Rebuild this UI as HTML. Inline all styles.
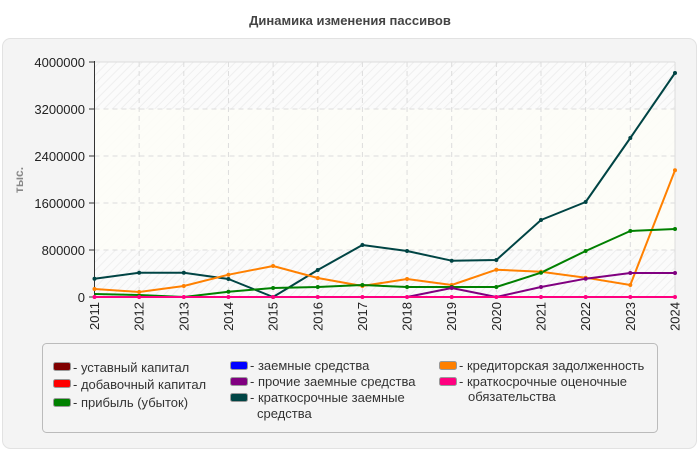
<!DOCTYPE html>
<html><head><meta charset="utf-8"><style>
body{margin:0;width:700px;height:450px;background:#fff;font-family:"Liberation Sans",sans-serif;overflow:hidden}
</style></head><body>
<svg width="700" height="450" xmlns="http://www.w3.org/2000/svg" font-family="Liberation Sans, sans-serif">
<defs>
<pattern id="h" width="6" height="6" patternUnits="userSpaceOnUse" patternTransform="rotate(45)">
<rect width="6" height="6" fill="#fbfbfb"/><line x1="0" y1="0" x2="0" y2="6" stroke="#efefef" stroke-width="2"/>
</pattern>
</defs>
<text x="350" y="25" text-anchor="middle" font-size="13" font-weight="bold" fill="#444">Динамика изменения пассивов</text>
<rect x="2.5" y="38.5" width="694" height="410" rx="8" fill="#f4f4f4" stroke="#e2e2e2"/>
<rect x="94.5" y="62" width="580.5" height="235" fill="url(#h)"/>
<rect x="94.5" y="109" width="580.5" height="141" fill="#fdfdf7" opacity="0.9"/>
<g stroke="#dcdcdc" stroke-dasharray="5,4" stroke-width="1">
<line x1="94.5" y1="109" x2="675" y2="109"/><line x1="94.5" y1="156" x2="675" y2="156"/>
<line x1="94.5" y1="203" x2="675" y2="203"/><line x1="94.5" y1="250" x2="675" y2="250"/>
<line x1="139.15" y1="62" x2="139.15" y2="297"/><line x1="183.8" y1="62" x2="183.8" y2="297"/>
<line x1="228.45" y1="62" x2="228.45" y2="297"/><line x1="273.1" y1="62" x2="273.1" y2="297"/>
<line x1="317.75" y1="62" x2="317.75" y2="297"/><line x1="362.4" y1="62" x2="362.4" y2="297"/>
<line x1="407.05" y1="62" x2="407.05" y2="297"/><line x1="451.7" y1="62" x2="451.7" y2="297"/>
<line x1="496.35" y1="62" x2="496.35" y2="297"/><line x1="541" y1="62" x2="541" y2="297"/>
<line x1="585.65" y1="62" x2="585.65" y2="297"/><line x1="630.3" y1="62" x2="630.3" y2="297"/>
</g>
<line x1="94.5" y1="62" x2="675" y2="62" stroke="#ddd"/>
<line x1="675" y1="62" x2="675" y2="297" stroke="#ddd"/>
<line x1="94.5" y1="61" x2="94.5" y2="297" stroke="#333"/>
<line x1="94" y1="297" x2="675" y2="297" stroke="#333"/>
<g font-size="13" fill="#222" text-anchor="end">
<text x="85" y="67">4000000</text><text x="85" y="114">3200000</text><text x="85" y="161">2400000</text>
<text x="85" y="208">1600000</text><text x="85" y="255">800000</text><text x="85" y="302">0</text>
</g>
<g stroke="#333"><line x1="89" y1="62" x2="94" y2="62"/><line x1="89" y1="109" x2="94" y2="109"/><line x1="89" y1="156" x2="94" y2="156"/><line x1="89" y1="203" x2="94" y2="203"/><line x1="89" y1="250" x2="94" y2="250"/><line x1="89" y1="297" x2="94" y2="297"/></g>
<text transform="translate(23,180) rotate(-90)" text-anchor="middle" font-size="12" font-weight="bold" fill="#888">тыс.</text>
<g font-size="13" fill="#222" text-anchor="end">
<text transform="translate(99,302) rotate(-90)">2011</text><text transform="translate(143.65,302) rotate(-90)">2012</text>
<text transform="translate(188.3,302) rotate(-90)">2013</text><text transform="translate(232.95,302) rotate(-90)">2014</text>
<text transform="translate(277.6,302) rotate(-90)">2015</text><text transform="translate(322.25,302) rotate(-90)">2016</text>
<text transform="translate(366.9,302) rotate(-90)">2017</text><text transform="translate(411.55,302) rotate(-90)">2018</text>
<text transform="translate(456.2,302) rotate(-90)">2019</text><text transform="translate(500.85,302) rotate(-90)">2020</text>
<text transform="translate(545.5,302) rotate(-90)">2021</text><text transform="translate(590.15,302) rotate(-90)">2022</text>
<text transform="translate(634.8,302) rotate(-90)">2023</text><text transform="translate(679.5,302) rotate(-90)">2024</text>
</g>
<g fill="none" stroke-width="2" stroke-linejoin="round">
<polyline stroke="#004444" points="94.5,278.7 139.15,272.7 183.8,272.7 228.45,279 273.1,297 317.75,270 362.4,245 407.05,251 451.7,260.7 496.35,260 541,220 585.65,202 630.3,138 675,73"/>
<polyline stroke="#ff8000" points="94.5,289 139.15,292 183.8,286 228.45,274.7 273.1,266 317.75,278 362.4,286 407.05,279 451.7,285 496.35,269.7 541,271.7 585.65,277.7 630.3,285 675,170.3"/>
<polyline stroke="#008000" points="94.5,294 139.15,295 183.8,297 228.45,291.7 273.1,288 317.75,287 362.4,285 407.05,287 451.7,287 496.35,287 541,272.7 585.65,251 630.3,231 675,229"/>
<polyline stroke="#800080" points="94.5,297 407.05,297 451.7,288 496.35,297 541,287 585.65,278.7 630.3,273 675,273"/>
<polyline stroke="#ff0000" points="94.5,297 675,297"/>
<polyline stroke="#ff0080" points="94.5,297 675,297"/>
</g>
<g>
<g fill="#004444"><circle cx="94.5" cy="278.7" r="2"/><circle cx="139.15" cy="272.7" r="2"/><circle cx="183.8" cy="272.7" r="2"/><circle cx="228.45" cy="279" r="2"/><circle cx="273.1" cy="297" r="2"/><circle cx="317.75" cy="270" r="2"/><circle cx="362.4" cy="245" r="2"/><circle cx="407.05" cy="251" r="2"/><circle cx="451.7" cy="260.7" r="2"/><circle cx="496.35" cy="260" r="2"/><circle cx="541" cy="220" r="2"/><circle cx="585.65" cy="202" r="2"/><circle cx="630.3" cy="138" r="2"/><circle cx="675" cy="73" r="2"/></g>
<g fill="#ff8000"><circle cx="94.5" cy="289" r="2"/><circle cx="139.15" cy="292" r="2"/><circle cx="183.8" cy="286" r="2"/><circle cx="228.45" cy="274.7" r="2"/><circle cx="273.1" cy="266" r="2"/><circle cx="317.75" cy="278" r="2"/><circle cx="362.4" cy="286" r="2"/><circle cx="407.05" cy="279" r="2"/><circle cx="451.7" cy="285" r="2"/><circle cx="496.35" cy="269.7" r="2"/><circle cx="541" cy="271.7" r="2"/><circle cx="585.65" cy="277.7" r="2"/><circle cx="630.3" cy="285" r="2"/><circle cx="675" cy="170.3" r="2"/></g>
<g fill="#008000"><circle cx="228.45" cy="291.7" r="2"/><circle cx="273.1" cy="288" r="2"/><circle cx="317.75" cy="287" r="2"/><circle cx="362.4" cy="285" r="2"/><circle cx="407.05" cy="287" r="2"/><circle cx="451.7" cy="287" r="2"/><circle cx="496.35" cy="287" r="2"/><circle cx="541" cy="272.7" r="2"/><circle cx="585.65" cy="251" r="2"/><circle cx="630.3" cy="231" r="2"/><circle cx="675" cy="229" r="2"/></g>
<g fill="#800080"><circle cx="451.7" cy="288" r="2"/><circle cx="541" cy="287" r="2"/><circle cx="585.65" cy="278.7" r="2"/><circle cx="630.3" cy="273" r="2"/><circle cx="675" cy="273" r="2"/></g>
<g fill="#ff0080"><circle cx="94.5" cy="297" r="2"/><circle cx="139.15" cy="297" r="2"/><circle cx="183.8" cy="297" r="2"/><circle cx="228.45" cy="297" r="2"/><circle cx="273.1" cy="297" r="2"/><circle cx="317.75" cy="297" r="2"/><circle cx="362.4" cy="297" r="2"/><circle cx="407.05" cy="297" r="2"/><circle cx="451.7" cy="297" r="2"/><circle cx="496.35" cy="297" r="2"/><circle cx="541" cy="297" r="2"/><circle cx="585.65" cy="297" r="2"/><circle cx="630.3" cy="297" r="2"/><circle cx="675" cy="297" r="2"/></g>
</g>
<rect x="42.5" y="343.5" width="615" height="89" rx="4" fill="#f4f4f4" stroke="#bbb"/>
<g stroke="#999" stroke-width="1">
<rect x="53.5" y="362.5" width="17" height="8" rx="2" fill="#800000"/>
<rect x="53.5" y="379.5" width="17" height="8" rx="2" fill="#ff0000"/>
<rect x="53.5" y="398.5" width="17" height="8" rx="2" fill="#008000"/>
<rect x="230.5" y="361.5" width="17" height="8" rx="2" fill="#0000ff"/>
<rect x="230.5" y="377.5" width="17" height="8" rx="2" fill="#800080"/>
<rect x="230.5" y="393.5" width="17" height="8" rx="2" fill="#004444"/>
<rect x="439.5" y="361.5" width="17" height="8" rx="2" fill="#ff8000"/>
<rect x="439.5" y="377.5" width="17" height="8" rx="2" fill="#ff0080"/>
</g>
<g font-size="13" fill="#333">
<text x="73" y="372">- уставный капитал</text>
<text x="73" y="389">- добавочный капитал</text>
<text x="73" y="407">- прибыль (убыток)</text>
<text x="250" y="370">- заемные средства</text>
<text x="250" y="386">- прочие заемные средства</text>
<text x="250" y="402">- краткосрочные заемные</text>
<text x="257" y="418">средства</text>
<text x="459" y="370">- кредиторская задолженность</text>
<text x="459" y="386">- краткосрочные оценочные</text>
<text x="468" y="401">обязательства</text>
</g>
</svg>
</body></html>
